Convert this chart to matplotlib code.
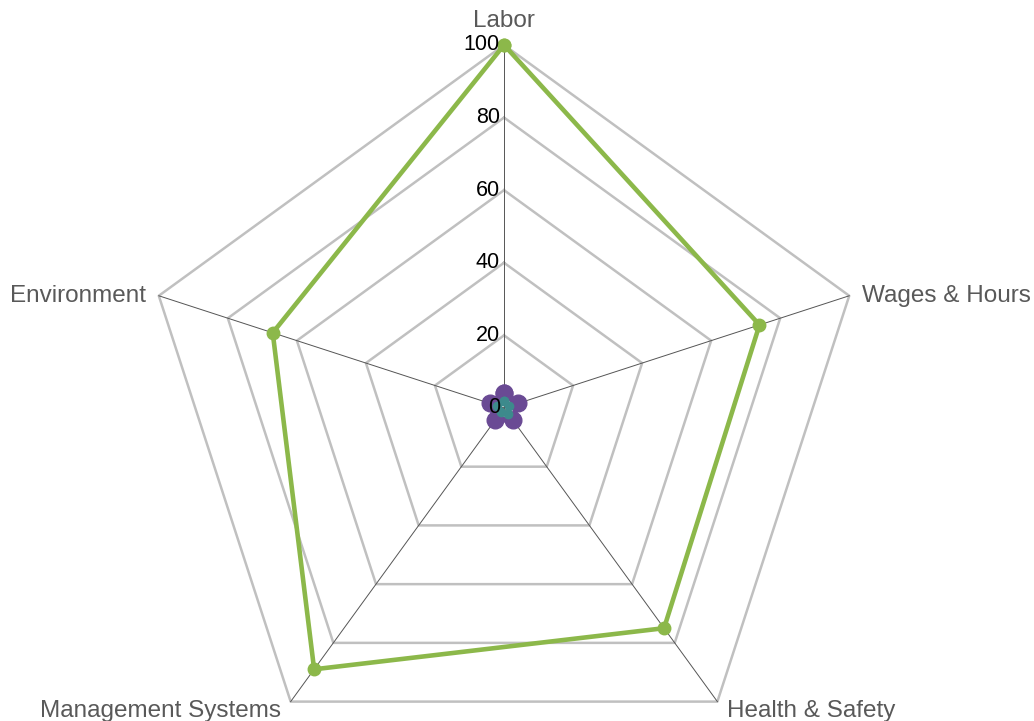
import numpy as np
import matplotlib
matplotlib.use("Agg")
import matplotlib.pyplot as plt

plt.rcParams['font.family'] = ['Liberation Sans', 'DejaVu Sans']

categories = ["Labor", "Wages & Hours", "Health & Safety", "Management Systems", "Environment"]
supplier_scores = [100, 74, 75, 89, 67]
benchmark_scores = [4, 4, 4, 4, 4]
baseline_scores = [2, 1.5, 2, 1.5, 2]
ring_values = [20, 40, 60, 80, 100]
tick_labels = ["0", "20", "40", "60", "80", "100"]

n = len(categories)
angles = np.linspace(0, 2 * np.pi, n, endpoint=False)
closed = np.append(angles, angles[0])

fig = plt.figure(figsize=(10.34, 7.21), dpi=100)
ax = fig.add_axes([0.1364, -0.0693, 0.7021, 1.007], projection="polar")
ax.set_theta_offset(np.pi / 2)
ax.set_theta_direction(-1)
ax.set_ylim(0, 100)
ax.axis("off")

# polygon rings
for r in ring_values:
    ax.plot(closed, [r] * (n + 1), color="#c0c0c0", lw=1.8, zorder=1, clip_on=False)

# spokes
for a in angles:
    ax.plot([a, a], [0, 100], color="#555555", lw=0.7, zorder=2, clip_on=False)

def series(vals, color, lw, ms, z):
    v = list(vals) + [vals[0]]
    ax.plot(closed, v, color=color, lw=lw, marker="o", markersize=ms,
            zorder=z, clip_on=False)

series(benchmark_scores, "#6a4a94", 4, 12, 3)
series(baseline_scores, "#3d8a8c", 3, 6, 4)
series(supplier_scores, "#8cb84a", 3.3, 9, 5)

# radial tick labels along the top spoke
for r, lab in zip([0] + ring_values, tick_labels):
    ax.annotate(lab, xy=(0, r), xytext=(-3, 0), textcoords="offset points",
                ha="right", va="center", fontsize=15.5, color="black", zorder=6)

# category labels
offsets = [(0, 9, "center", "bottom"), (9, 0, "left", "center"),
           (7, -7, "left", "center"), (-7, -7, "right", "center"),
           (-9, 0, "right", "center")]
for a, lab, (dx, dy, ha, va) in zip(angles, categories, offsets):
    ax.annotate(lab, xy=(a, 100), xytext=(dx, dy), textcoords="offset points",
                ha=ha, va=va, fontsize=17.5, color="#595959", annotation_clip=False)

fig.savefig("out.png", dpi=100)
